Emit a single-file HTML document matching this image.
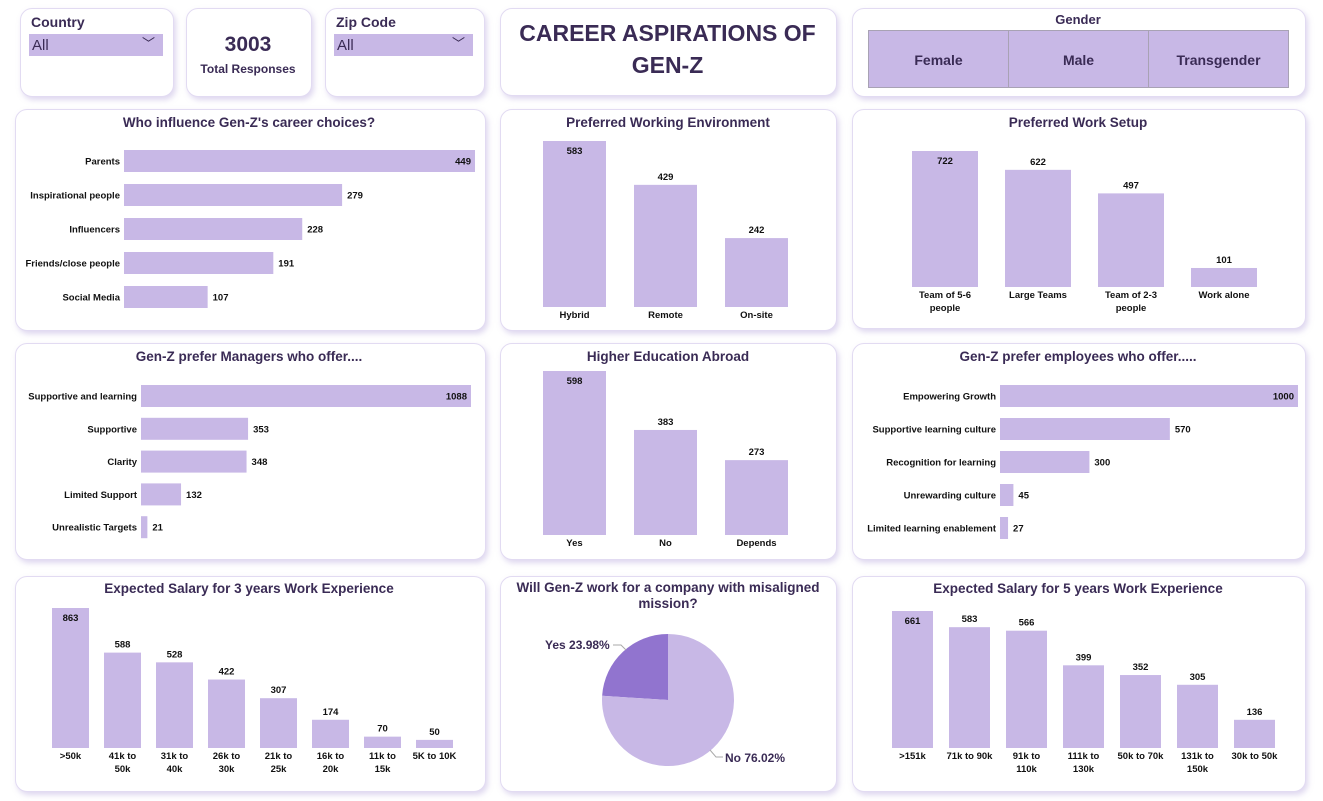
<!DOCTYPE html>
<html><head><meta charset="utf-8">
<style>
body{margin:0;width:1323px;height:801px;background:#fff;font-family:"Liberation Sans",sans-serif;overflow:hidden;position:relative;color:#3a2b55}
.p{position:absolute;background:#fff;border:1px solid #e2dbf2;border-radius:12px;box-shadow:2px 3px 6px rgba(160,140,210,.35)}
.lbl{position:absolute;font-weight:bold;font-size:14px;color:#3a2b55}
.dd{position:absolute;background:#c8b8e6;height:22px;font-size:15px;color:#3a2b55;line-height:24px;padding-left:3px;box-sizing:border-box}
.dd span{position:absolute;right:8px;top:-2px;font-size:13px}
.g{position:absolute;height:58px;width:141px;background:#c8b8e6;border:1px solid #a8a2b4;box-sizing:border-box;text-align:center;line-height:58px;font-weight:bold;font-size:14px}
svg{position:absolute;left:0;top:0}
</style></head><body>
<div class="p" style="left:20px;top:8px;width:152px;height:87px"></div>
<div class="lbl" style="left:31px;top:14px">Country</div>
<div class="dd" style="left:29px;top:34px;width:134px">All<span>﹀</span></div>
<div class="p" style="left:186px;top:8px;width:124px;height:87px"></div>
<div style="position:absolute;left:186px;top:33px;width:124px;text-align:center;font-weight:bold;font-size:21px">3003</div>
<div style="position:absolute;left:186px;top:62px;width:124px;text-align:center;font-weight:bold;font-size:12px">Total Responses</div>
<div class="p" style="left:325px;top:8px;width:158px;height:87px"></div>
<div class="lbl" style="left:336px;top:14px">Zip Code</div>
<div class="dd" style="left:334px;top:34px;width:139px">All<span>﹀</span></div>
<div class="p" style="left:500px;top:8px;width:335px;height:86px"></div>
<div style="position:absolute;left:500px;top:17px;width:335px;text-align:center;font-weight:bold;font-size:23px;line-height:32px;color:#3a2b55">CAREER ASPIRATIONS OF<br>GEN-Z</div>
<div class="p" style="left:852px;top:8px;width:452px;height:87px"></div>
<div style="position:absolute;left:852px;top:12px;width:452px;text-align:center;font-weight:bold;font-size:13px">Gender</div>
<div class="g" style="left:868px;top:30px">Female</div>
<div class="g" style="left:1008px;top:30px">Male</div>
<div class="g" style="left:1148px;top:30px">Transgender</div>

<div class="p" style="left:15px;top:109px;width:469px;height:220px"></div>
<div class="p" style="left:500px;top:109px;width:335px;height:220px"></div>
<div class="p" style="left:852px;top:109px;width:452px;height:218px"></div>
<div class="p" style="left:15px;top:343px;width:469px;height:215px"></div>
<div class="p" style="left:500px;top:343px;width:335px;height:215px"></div>
<div class="p" style="left:852px;top:343px;width:452px;height:215px"></div>
<div class="p" style="left:15px;top:576px;width:469px;height:214px"></div>
<div class="p" style="left:500px;top:576px;width:335px;height:214px"></div>
<div class="p" style="left:852px;top:576px;width:452px;height:214px"></div>

<svg id="s" width="1323" height="801"></svg>
<script>
const inflCats=["Parents","Inspirational people","Influencers","Friends/close people","Social Media"];
const inflVals=[449,279,228,191,107];
const envCats=[["Hybrid"],["Remote"],["On-site"]];
const envVals=[583,429,242];
const setupCats=[["Team of 5-6","people"],["Large Teams"],["Team of 2-3","people"],["Work alone"]];
const setupVals=[722,622,497,101];
const mgrCats=["Supportive and learning","Supportive","Clarity","Limited Support","Unrealistic Targets"];
const mgrVals=[1088,353,348,132,21];
const eduCats=[["Yes"],["No"],["Depends"]];
const eduVals=[598,383,273];
const empCats=["Empowering Growth","Supportive learning culture","Recognition for learning","Unrewarding culture","Limited learning enablement"];
const empVals=[1000,570,300,45,27];
const sal3Cats=[[">50k"],["41k to","50k"],["31k to","40k"],["26k to","30k"],["21k to","25k"],["16k to","20k"],["11k to","15k"],["5K to 10K"]];
const sal3Vals=[863,588,528,422,307,174,70,50];
const sal5Cats=[[">151k"],["71k to 90k"],["91k to","110k"],["111k to","130k"],["50k to 70k"],["131k to","150k"],["30k to 50k"]];
const sal5Vals=[661,583,566,399,352,305,136];
const pieCats=["Yes","No"];
const pieVals=[23.98,76.02];

const S=document.getElementById('s'),NS="http://www.w3.org/2000/svg",BAR="#c8b8e6";
function mk(t,a,txt){const e=document.createElementNS(NS,t);for(const k in a)e.setAttribute(k,a[k]);if(txt!=null)e.textContent=txt;S.appendChild(e);return e;}
function title(x,y,t,n){const e=mk('text',{x:x,y:y,'text-anchor':'middle','font-size':13.5,'font-weight':'bold',fill:'#3a2b55'},t);

}
function hbar(cats,vals,x0,x1,y0,step,h,name){
 const mx=Math.max(...vals),sx=v=>v/mx*(x1-x0);
 cats.forEach((c,i)=>{const yc=y0+i*step;
  const r=mk('rect',{x:x0,y:yc-h/2,width:sx(vals[i]),height:h,fill:BAR});
  
  
  const l=mk('text',{x:x0-4,y:yc+3.5,'text-anchor':'end','font-size':9.5,'font-weight':'bold',fill:'#111'},c);
  
  
  const inside=sx(vals[i])>(x1-x0)*0.9;
  const v=mk('text',{x:inside?x0+sx(vals[i])-4:x0+sx(vals[i])+5,y:yc+3.5,'text-anchor':inside?'end':'start','font-size':9.5,'font-weight':'bold',fill:'#111'},vals[i]);
  
  
 });}
function vbar(cats,vals,x0,step,w,base,top,name){
 const mx=Math.max(...vals),sy=v=>v/mx*(base-top);
 cats.forEach((c,i)=>{const x=x0+i*step,h=sy(vals[i]);
  const r=mk('rect',{x:x,y:base-h,width:w,height:h,fill:BAR});
  
  
  const v=mk('text',{x:x+w/2,y:base-h+(i==0?13:-5),'text-anchor':'middle','font-size':9.5,'font-weight':'bold',fill:'#111'},vals[i]);
  
  
  c.forEach((ln,j)=>{const l=mk('text',{x:x+w/2,y:base+11+j*13,'text-anchor':'middle','font-size':9.5,'font-weight':'bold',fill:'#111'},ln);
   
   });
 });}
title(249,127,"Who influence Gen-Z's career choices?","influence-title");
hbar(inflCats,inflVals,124,475,161,34,22,"influence");
title(668,127,"Preferred Working Environment","environment-title");
vbar(envCats,envVals,543,91,63,307,141,"environment");
title(1078,127,"Preferred Work Setup","setup-title");
vbar(setupCats,setupVals,912,93,66,287,151,"setup");
title(249,361,"Gen-Z prefer Managers who offer....","managers-title");
hbar(mgrCats,mgrVals,141,471,396,32.8,22,"managers");
title(668,361,"Higher Education Abroad","education-title");
vbar(eduCats,eduVals,543,91,63,535,371,"education");
title(1078,361,"Gen-Z prefer employees who offer.....","employers-title");
hbar(empCats,empVals,1000,1298,396,33,22,"employers");
title(249,593,"Expected Salary for 3 years Work Experience","salary3-title");
vbar(sal3Cats,sal3Vals,52,52,37,748,608,"salary3");
title(1078,593,"Expected Salary for 5 years Work Experience","salary5-title");
vbar(sal5Cats,sal5Vals,892,57,41,748,611,"salary5");
title(668,592,"Will Gen-Z work for a company with misaligned","mission-title");
title(668,608,"mission?","mission-title-line2");
const cx=668,cy=700,R=66,tot=pieVals.reduce((a,b)=>a+b,0);
const cols=["#9174cf","#c8b8e6"];
let a0=0;
pieVals.forEach((v,i)=>{const a1=a0-v/tot*2*Math.PI;
 const p=(a)=>[cx+R*Math.sin(a),cy-R*Math.cos(a)];
 const [x0,y0]=p(a0),[x1,y1]=p(a1);const large=(v/tot>0.5)?1:0;
 const s=mk('path',{d:`M${cx},${cy}L${x0},${y0}A${R},${R} 0 ${large} 0 ${x1},${y1}Z`,fill:cols[i]});
 
 
 a0=a1;});
const y1=mk('text',{x:545,y:649,'font-size':12,'font-weight':'bold',fill:'#3a2b55'},pieCats[0]+" "+pieVals[0].toFixed(2)+"%");


mk('path',{d:"M613,645 L621,645 L626,650",stroke:'#aaa',fill:'none'});
const n1=mk('text',{x:725,y:762,'font-size':12,'font-weight':'bold',fill:'#3a2b55'},pieCats[1]+" "+pieVals[1].toFixed(2)+"%");


mk('path',{d:"M710,750 L716,757 L723,757",stroke:'#aaa',fill:'none'});
</script>
</body></html>
